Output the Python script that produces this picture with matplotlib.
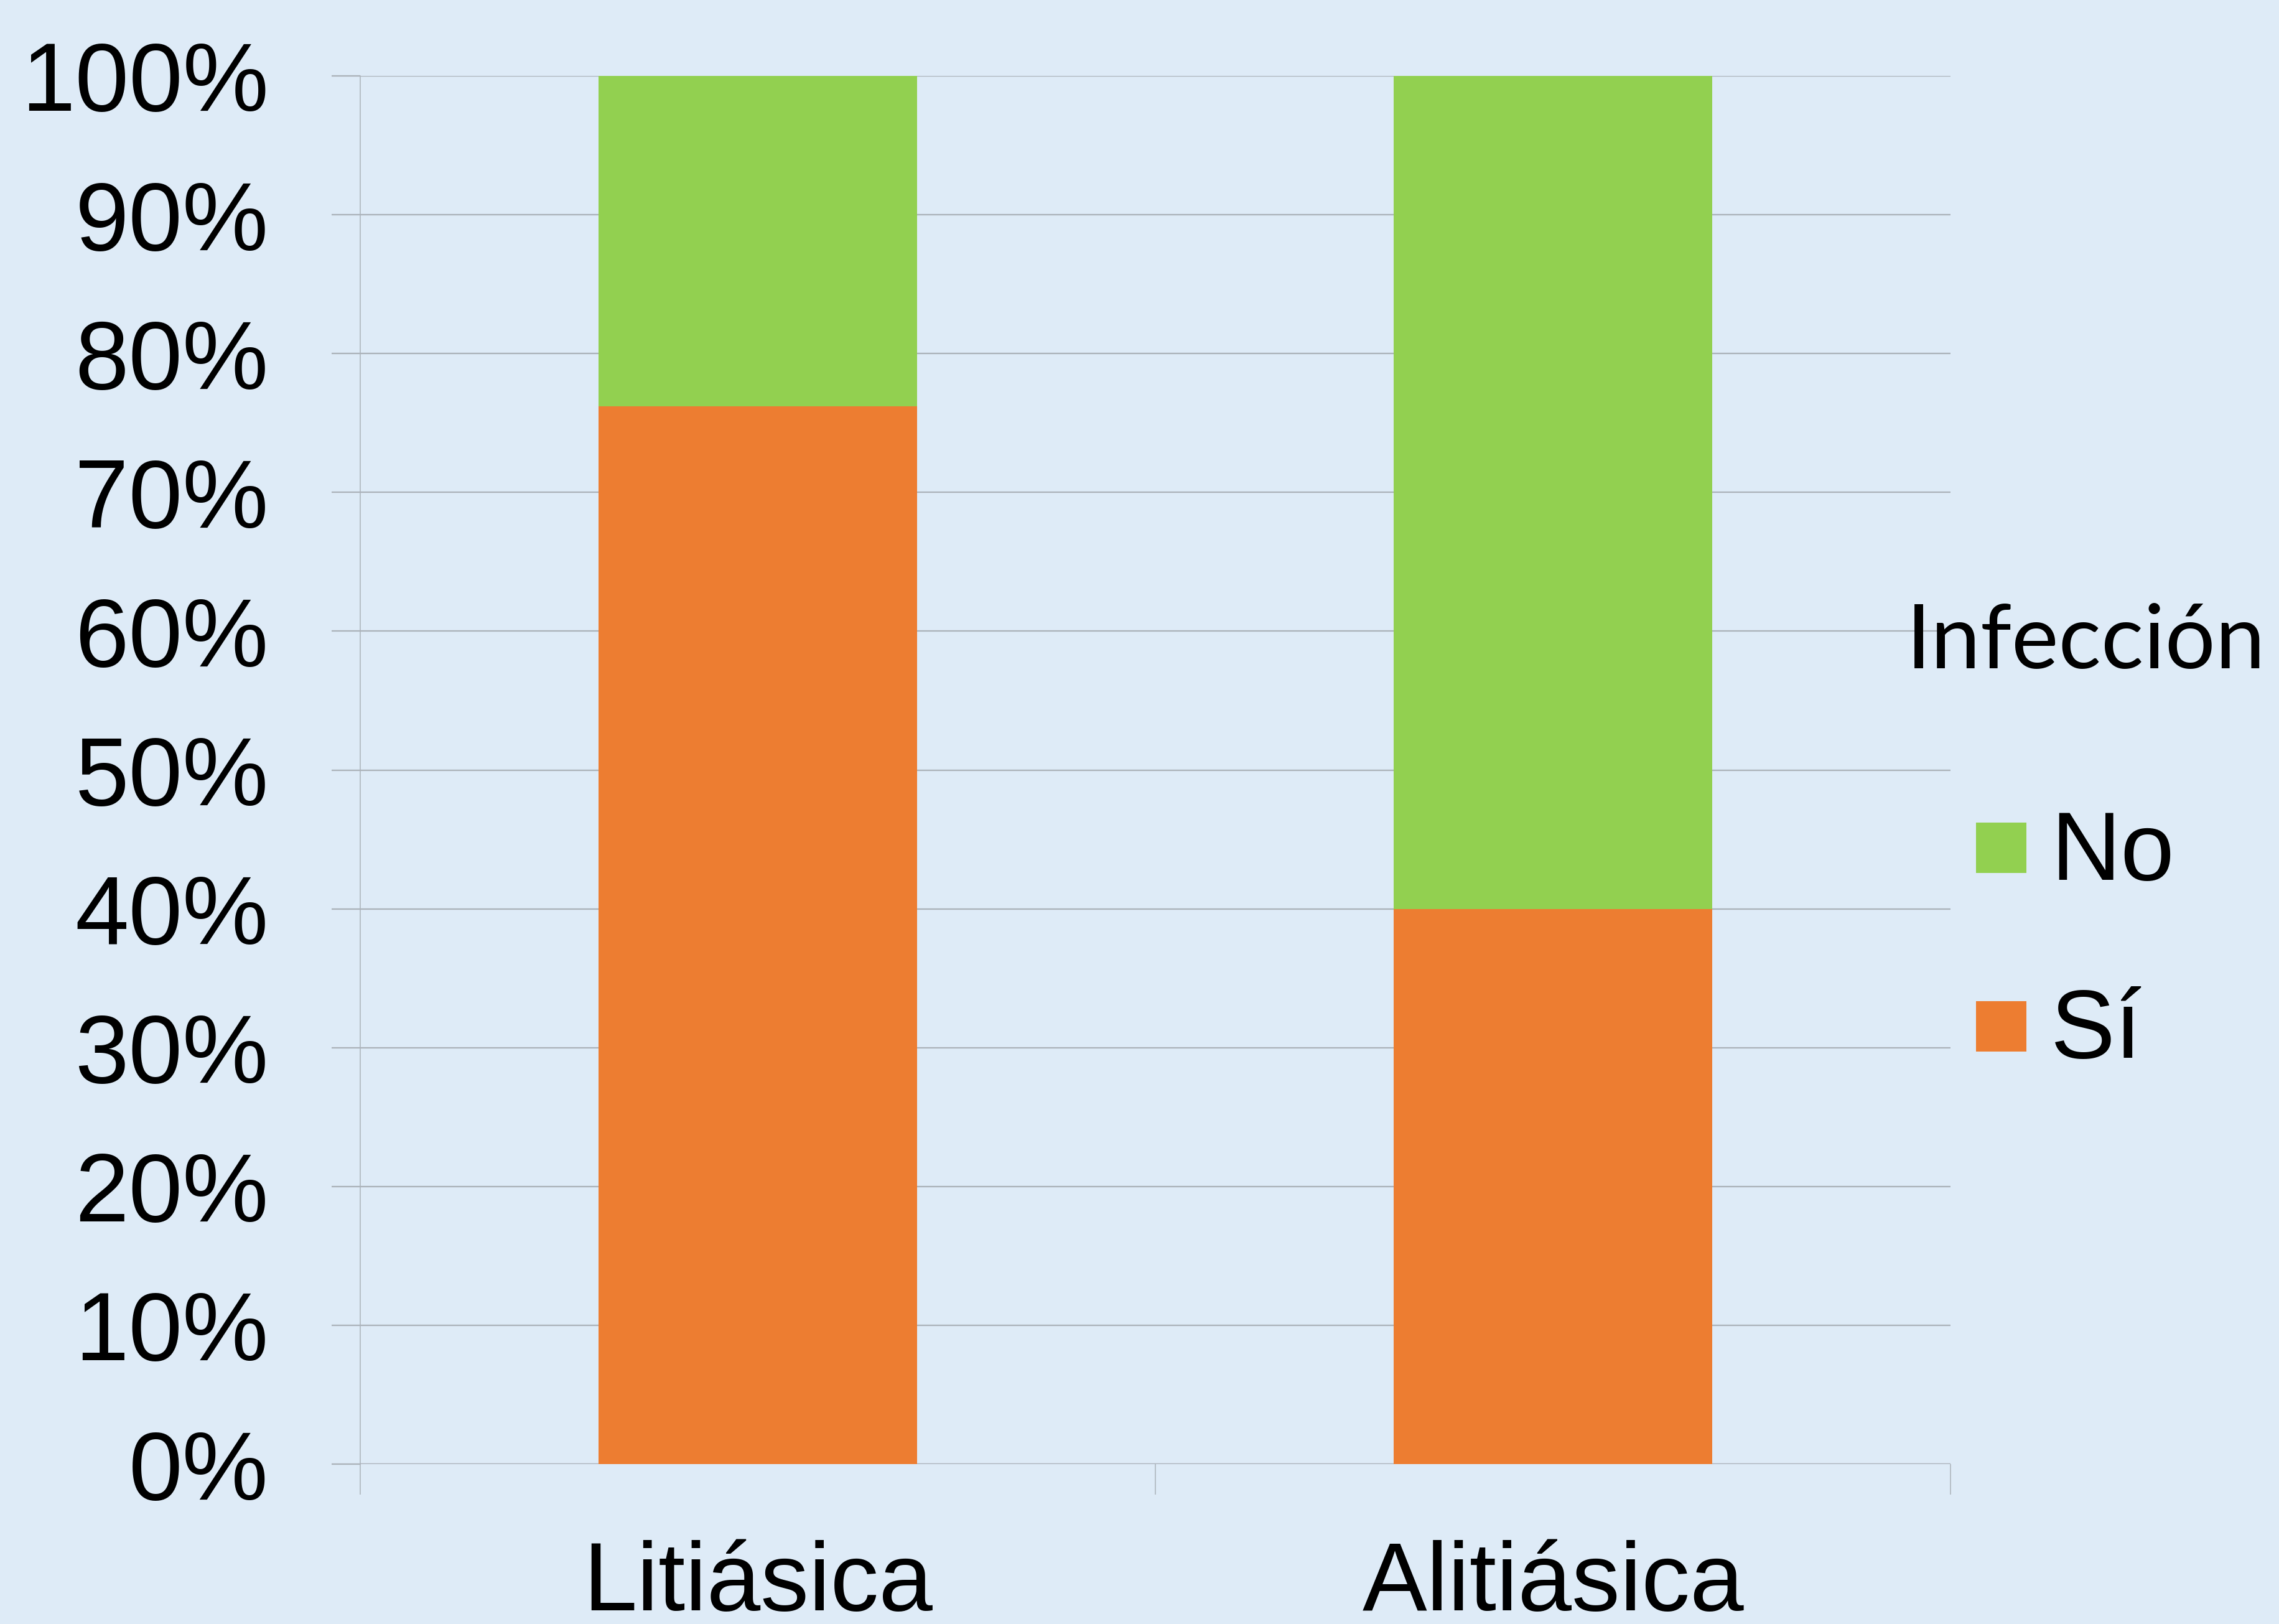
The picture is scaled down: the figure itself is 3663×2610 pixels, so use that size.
import matplotlib
matplotlib.use("Agg")
import matplotlib.pyplot as plt
from matplotlib.patches import Rectangle

# data
categories = ["Litiásica", "Alitiásica"]
si_pct = [76.2, 40.0]
no_pct = [23.8, 60.0]
series_labels = ["No", "Sí"]
legend_title = "Infección"
y_ticks = [0, 10, 20, 30, 40, 50, 60, 70, 80, 90, 100]

bg = "#DEEBF7"
orange = "#ED7D31"
green = "#92D050"
grid_col = "#ABB2B9"

W, H = 3663, 2610
fig = plt.figure(figsize=(W / 100, H / 100), dpi=100, facecolor=bg)
ax = fig.add_axes([579 / W, 1 - 2353 / H, (3135 - 579) / W, (2353 - 122) / H])
ax.set_facecolor(bg)

x = list(range(len(categories)))
ax.bar(x, si_pct, width=0.4, color=orange, zorder=3)
ax.bar(x, no_pct, bottom=si_pct, width=0.4, color=green, zorder=3)

ax.set_xlim(-0.5, len(categories) - 0.5)
ax.set_ylim(0, 100)

for s in ["top", "right", "bottom"]:
    ax.spines[s].set_visible(False)
ax.spines["left"].set_color(grid_col)
ax.spines["left"].set_linewidth(1.1)

ax.set_yticks(y_ticks)
ax.set_yticklabels([f"{v}%" for v in y_ticks], fontsize=112, family="Liberation Sans")
ax.yaxis.grid(True, color=grid_col, linewidth=1.65)
ax.set_axisbelow(True)
ax.tick_params(axis="y", length=33, width=1.65, color=grid_col, pad=73)
ax.axhline(0, color=grid_col, linewidth=2.4, zorder=2)

ax.set_xticks(x)
ax.set_xticklabels(categories, fontsize=112, family="Liberation Sans")
ax.set_xticks([i - 0.5 for i in range(len(categories) + 1)], minor=True)
ax.tick_params(axis="x", which="major", length=0, pad=88)
ax.tick_params(axis="x", which="minor", length=35, width=1.1, color=grid_col, direction="out")

# legend, drawn by hand
fig.text(3064 / W, 1 - 1074 / H, legend_title, fontsize=103, family="Lato",
         ha="left", va="baseline")
sq = 81
rows = [(green, 1322, 1414), (orange, 1609, 1700)]
for (col, top, base), lab in zip(rows, series_labels):
    fig.add_artist(Rectangle((3176 / W, 1 - (top + sq) / H), sq / W, sq / H,
                             transform=fig.transFigure, facecolor=col, edgecolor="none"))
    fig.text(3296 / W, 1 - base / H, lab, fontsize=112, family="Liberation Sans",
             ha="left", va="baseline")

fig.savefig("out.png", dpi=100, facecolor=bg)
